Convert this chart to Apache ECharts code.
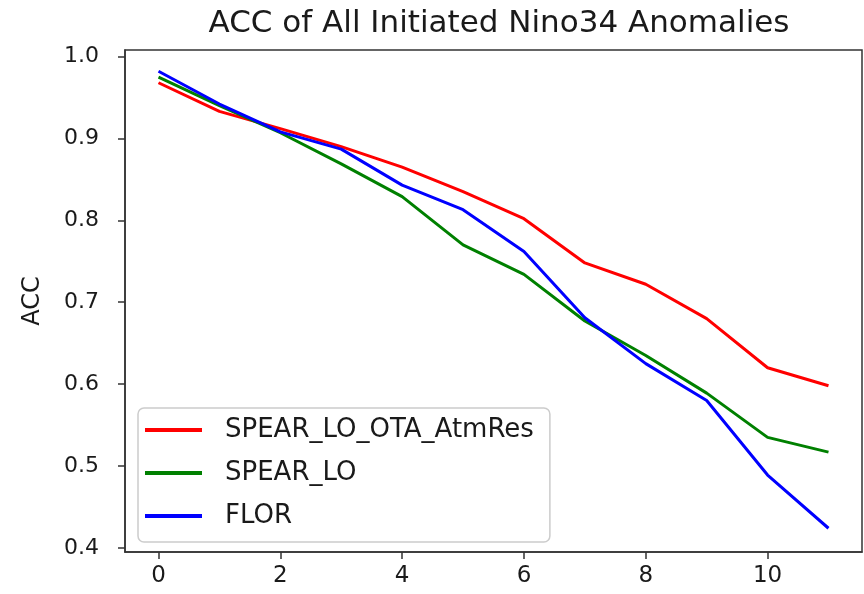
<!DOCTYPE html>
<html>
<head>
<meta charset="utf-8">
<script src="https://cdn.jsdelivr.net/npm/echarts@6/dist/echarts.min.js"></script>
<style>
html,body{margin:0;padding:0;background:#fff;}
#chart{width:864px;height:594px;}
</style>
</head>
<body>
<div id="chart"></div>
<script>
const leadTimes = [0,1,2,3,4,5,6,7,8,9,10,11];
const spearLoOtaAtmRes = [0.968,0.933,0.912,0.890,0.865,0.835,0.802,0.748,0.722,0.680,0.620,0.598];
const spearLo = [0.975,0.940,0.907,0.869,0.829,0.770,0.734,0.677,0.635,0.589,0.535,0.517];
const flor = [0.982,0.942,0.908,0.887,0.843,0.813,0.762,0.681,0.625,0.580,0.489,0.424];
const xTicks = [0,2,4,6,8,10];
const yTicks = [0.4,0.5,0.6,0.7,0.8,0.9,1.0];
const seriesNames = ['SPEAR_LO_OTA_AtmRes','SPEAR_LO','FLOR'];
const seriesColors = ['#ff0000','#008000','#0000ff'];
const titleText = 'ACC of All Initiated Nino34 Anomalies';
const yName = 'ACC';

const font = 'DejaVu Sans';
const txt = '#1a1a1a';
const axisCol = '#333';

function pairs(vals){ return leadTimes.map((x,i)=>[x, vals[i]]); }
const allVals = [spearLoOtaAtmRes, spearLo, flor];

const chart = echarts.init(document.getElementById('chart'), null, {renderer:'canvas'});
chart.setOption({
  animation:false,
  backgroundColor:'#fff',
  title:{
    text:titleText, left:494, top:3, textAlign:'center',
    textStyle:{fontFamily:font, fontSize:31, fontWeight:'normal', color:txt}
  },
  grid:{left:125, right:2, top:50, bottom:42, show:true, borderColor:axisCol, borderWidth:1.5, backgroundColor:'transparent'},
  xAxis:{
    type:'value', min:-0.55, max:11.55,
    axisLine:{show:true, onZero:false, lineStyle:{color:axisCol, width:1.5}},
    axisTick:{show:true, length:7, inside:false, customValues:xTicks, lineStyle:{color:axisCol, width:1.5}},
    axisLabel:{customValues:xTicks, margin:13, fontFamily:font, fontSize:23, color:txt, formatter:v=>String(Math.round(v))},
    splitLine:{show:false}
  },
  yAxis:{
    type:'value', min:0.395, max:1.008,
    name:yName, nameLocation:'middle', nameGap:80, nameRotate:90,
    nameTextStyle:{fontFamily:font, fontSize:24, color:txt},
    axisLine:{show:true, onZero:false, lineStyle:{color:axisCol, width:1.5}},
    axisTick:{show:true, length:7, inside:false, customValues:yTicks, lineStyle:{color:axisCol, width:1.5}},
    axisLabel:{customValues:yTicks, margin:26, fontFamily:font, fontSize:22, color:txt, formatter:v=>v.toFixed(1)},
    splitLine:{show:false}
  },
  legend:{
    orient:'vertical', left:138, top:408,
    padding:[9,16,13,7], itemGap:17,
    borderColor:'#ccc', borderWidth:1.5, borderRadius:6, backgroundColor:'rgba(255,255,255,0.85)',
    itemWidth:57, itemHeight:4, icon:'rect',
    textStyle:{fontFamily:font, fontSize:26, color:txt, padding:[0,0,0,18]},
    data:seriesNames
  },
  series: seriesNames.map((n,i)=>({
    name:n, type:'line', data:pairs(allVals[i]), showSymbol:false, symbol:'none',
    lineStyle:{color:seriesColors[i], width:3}, itemStyle:{color:seriesColors[i]}, z:2+i
  }))
});
</script>
</body>
</html>
